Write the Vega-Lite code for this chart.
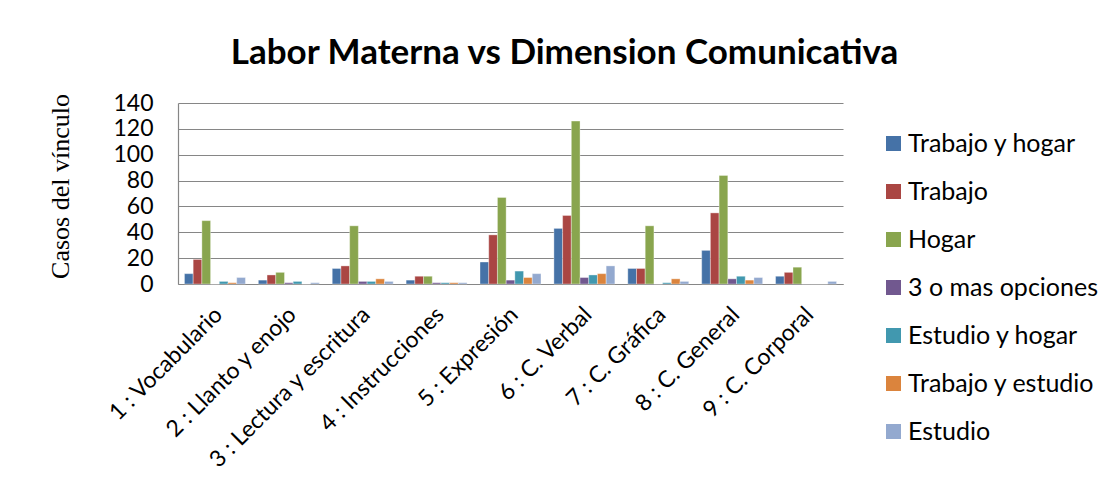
{
  "$schema": "https://vega.github.io/schema/vega-lite/v6.json",
  "width": 665,
  "height": 181,
  "autosize": {"type": "none"},
  "padding": {"left": 178, "top": 103, "right": 269, "bottom": 207},
  "background": "#ffffff",
  "title": {
    "text": "Labor Materna vs Dimension Comunicativa",
    "font": "Lato",
    "fontSize": 35,
    "fontWeight": "bold",
    "color": "#000000",
    "anchor": "middle",
    "frame": "group",
    "dx": 54,
    "baseline": "alphabetic",
    "offset": -9
  },
  "config": {
    "font": "Lato",
    "view": {"stroke": null},
    "axis": {"labelColor": "#000000", "titleColor": "#000000"}
  },
  "data": {
    "values": [
      {"cat": "1 : Vocabulario", "serie": "Trabajo y hogar", "n": 8},
      {"cat": "1 : Vocabulario", "serie": "Trabajo", "n": 19},
      {"cat": "1 : Vocabulario", "serie": "Hogar", "n": 49},
      {"cat": "1 : Vocabulario", "serie": "3 o mas opciones", "n": 0},
      {"cat": "1 : Vocabulario", "serie": "Estudio y hogar", "n": 2},
      {"cat": "1 : Vocabulario", "serie": "Trabajo y estudio", "n": 1},
      {"cat": "1 : Vocabulario", "serie": "Estudio", "n": 5},
      {"cat": "2 : Llanto y enojo", "serie": "Trabajo y hogar", "n": 3},
      {"cat": "2 : Llanto y enojo", "serie": "Trabajo", "n": 7},
      {"cat": "2 : Llanto y enojo", "serie": "Hogar", "n": 9},
      {"cat": "2 : Llanto y enojo", "serie": "3 o mas opciones", "n": 1},
      {"cat": "2 : Llanto y enojo", "serie": "Estudio y hogar", "n": 2},
      {"cat": "2 : Llanto y enojo", "serie": "Trabajo y estudio", "n": 0},
      {"cat": "2 : Llanto y enojo", "serie": "Estudio", "n": 1},
      {"cat": "3 : Lectura y escritura", "serie": "Trabajo y hogar", "n": 12},
      {"cat": "3 : Lectura y escritura", "serie": "Trabajo", "n": 14},
      {"cat": "3 : Lectura y escritura", "serie": "Hogar", "n": 45},
      {"cat": "3 : Lectura y escritura", "serie": "3 o mas opciones", "n": 2},
      {"cat": "3 : Lectura y escritura", "serie": "Estudio y hogar", "n": 2},
      {"cat": "3 : Lectura y escritura", "serie": "Trabajo y estudio", "n": 4},
      {"cat": "3 : Lectura y escritura", "serie": "Estudio", "n": 2},
      {"cat": "4 : Instrucciones", "serie": "Trabajo y hogar", "n": 3},
      {"cat": "4 : Instrucciones", "serie": "Trabajo", "n": 6},
      {"cat": "4 : Instrucciones", "serie": "Hogar", "n": 6},
      {"cat": "4 : Instrucciones", "serie": "3 o mas opciones", "n": 1},
      {"cat": "4 : Instrucciones", "serie": "Estudio y hogar", "n": 1},
      {"cat": "4 : Instrucciones", "serie": "Trabajo y estudio", "n": 1},
      {"cat": "4 : Instrucciones", "serie": "Estudio", "n": 1},
      {"cat": "5 : Expresión", "serie": "Trabajo y hogar", "n": 17},
      {"cat": "5 : Expresión", "serie": "Trabajo", "n": 38},
      {"cat": "5 : Expresión", "serie": "Hogar", "n": 67},
      {"cat": "5 : Expresión", "serie": "3 o mas opciones", "n": 3},
      {"cat": "5 : Expresión", "serie": "Estudio y hogar", "n": 10},
      {"cat": "5 : Expresión", "serie": "Trabajo y estudio", "n": 5},
      {"cat": "5 : Expresión", "serie": "Estudio", "n": 8},
      {"cat": "6 : C. Verbal", "serie": "Trabajo y hogar", "n": 43},
      {"cat": "6 : C. Verbal", "serie": "Trabajo", "n": 53},
      {"cat": "6 : C. Verbal", "serie": "Hogar", "n": 126},
      {"cat": "6 : C. Verbal", "serie": "3 o mas opciones", "n": 5},
      {"cat": "6 : C. Verbal", "serie": "Estudio y hogar", "n": 7},
      {"cat": "6 : C. Verbal", "serie": "Trabajo y estudio", "n": 8},
      {"cat": "6 : C. Verbal", "serie": "Estudio", "n": 14},
      {"cat": "7 : C. Gráfica", "serie": "Trabajo y hogar", "n": 12},
      {"cat": "7 : C. Gráfica", "serie": "Trabajo", "n": 12},
      {"cat": "7 : C. Gráfica", "serie": "Hogar", "n": 45},
      {"cat": "7 : C. Gráfica", "serie": "3 o mas opciones", "n": 0},
      {"cat": "7 : C. Gráfica", "serie": "Estudio y hogar", "n": 1},
      {"cat": "7 : C. Gráfica", "serie": "Trabajo y estudio", "n": 4},
      {"cat": "7 : C. Gráfica", "serie": "Estudio", "n": 2},
      {"cat": "8 : C. General", "serie": "Trabajo y hogar", "n": 26},
      {"cat": "8 : C. General", "serie": "Trabajo", "n": 55},
      {"cat": "8 : C. General", "serie": "Hogar", "n": 84},
      {"cat": "8 : C. General", "serie": "3 o mas opciones", "n": 4},
      {"cat": "8 : C. General", "serie": "Estudio y hogar", "n": 6},
      {"cat": "8 : C. General", "serie": "Trabajo y estudio", "n": 3},
      {"cat": "8 : C. General", "serie": "Estudio", "n": 5},
      {"cat": "9 : C. Corporal", "serie": "Trabajo y hogar", "n": 6},
      {"cat": "9 : C. Corporal", "serie": "Trabajo", "n": 9},
      {"cat": "9 : C. Corporal", "serie": "Hogar", "n": 13},
      {"cat": "9 : C. Corporal", "serie": "3 o mas opciones", "n": 0},
      {"cat": "9 : C. Corporal", "serie": "Estudio y hogar", "n": 0},
      {"cat": "9 : C. Corporal", "serie": "Trabajo y estudio", "n": 0},
      {"cat": "9 : C. Corporal", "serie": "Estudio", "n": 2}
    ]
  },
  "mark": {"type": "bar", "stroke": "#ffffff", "strokeWidth": 0.5, "strokeOpacity": 0.7},
  "encoding": {
    "x": {
      "field": "cat",
      "type": "nominal",
      "sort": null,
      "scale": {"paddingInner": 0.175, "paddingOuter": 0.0875},
      "axis": {
        "title": null,
        "labelAngle": -45,
        "labelAlign": "right",
        "labelBaseline": "top",
        "labelFont": "Lato",
        "labelFontSize": 23,
        "labelPadding": 19,
        "labelOffset": -4,
        "ticks": false,
        "domainColor": "#868686",
        "domainWidth": 1.2,
        "labelLimit": 400
      }
    },
    "xOffset": {
      "field": "serie",
      "type": "nominal",
      "sort": ["Trabajo y hogar", "Trabajo", "Hogar", "3 o mas opciones", "Estudio y hogar", "Trabajo y estudio", "Estudio"],
      "scale": {"paddingInner": 0, "paddingOuter": 0}
    },
    "y": {
      "field": "n",
      "type": "quantitative",
      "scale": {"domain": [0, 140], "nice": false},
      "axis": {
        "values": [0, 20, 40, 60, 80, 100, 120, 140],
        "title": "Casos  del vínculo",
        "titleFont": "Liberation Serif",
        "titleFontSize": 26,
        "titleFontWeight": "normal",
        "titleAngle": -90,
        "titleAlign": "center",
        "titleBaseline": "middle",
        "titleX": -118,
        "titleY": 83,
        "labelFont": "Lato",
        "labelFontSize": 23,
        "labelPadding": 25,
        "ticks": false,
        "grid": true,
        "gridColor": "#868686",
        "gridWidth": 1.2,
        "domainColor": "#868686",
        "domainWidth": 1.2
      }
    },
    "color": {
      "field": "serie",
      "type": "nominal",
      "scale": {
        "domain": ["Trabajo y hogar", "Trabajo", "Hogar", "3 o mas opciones", "Estudio y hogar", "Trabajo y estudio", "Estudio"],
        "range": ["#4572A7", "#AA4643", "#89A54E", "#71588F", "#4198AF", "#DB843D", "#93A9CF"]
      },
      "legend": {
        "title": null,
        "orient": "none",
        "legendX": 703,
        "legendY": 28,
        "symbolType": "square",
        "symbolSize": 225,
        "symbolStrokeWidth": 0,
        "labelFont": "Lato",
        "labelFontSize": 25,
        "labelColor": "#000000",
        "labelOffset": 2,
        "labelExpr": "(datum.label == 'Trabajo y hogar' || datum.label == 'Hogar' || datum.label == 'Estudio') ? '\u00a0' + datum.label : datum.label",
        "rowPadding": 22,
        "labelLimit": 300,
        "padding": 0
      }
    }
  }
}
